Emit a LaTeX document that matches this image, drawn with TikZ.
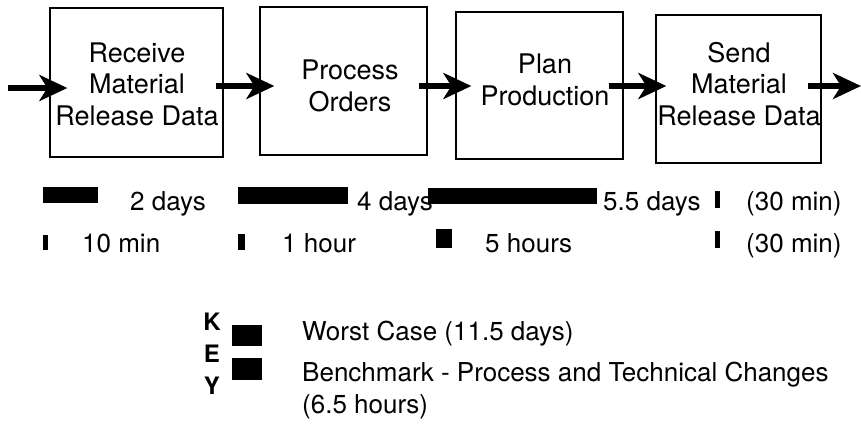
\documentclass[tikz,border=0pt]{standalone}
\usepackage{fontspec}
\setmainfont{TeX Gyre Heros}
\usetikzlibrary{arrows.meta}
\begin{document}
\begin{tikzpicture}[x=1pt,y=-1pt,
  stepbox/.style={draw,line width=1.3pt,minimum width=#1,inner sep=0pt},
  boxtext/.style={align=center,inner sep=0pt,font=\fontsize{27}{31.5}\selectfont},
  flow/.style={line width=6.5pt,-{Stealth[length=28pt,width=26pt,inset=8pt]}},
  lbl/.style={anchor=base west,inner sep=0pt,font=\fontsize{26}{31}\selectfont},
  keyl/.style={anchor=base,inner sep=0pt,font=\fontsize{24}{24}\bfseries\selectfont},
  bar/.style={fill=black}]
\useasboundingbox (0,0) rectangle (861,429);

% process boxes
\node[stepbox=173pt,minimum height=149pt] (b1) at (136.5,82.5) {};
\node[stepbox=167pt,minimum height=148pt] (b2) at (343.5,81) {};
\node[stepbox=167pt,minimum height=147pt] (b3) at (539.5,85.5) {};
\node[stepbox=165pt,minimum height=148pt] (b4) at (738.5,89) {};

\node[boxtext] (t1) at (137,84) {Receive\\Material\\Release Data};
\node[boxtext] (t2) at (350,86) {Process\\Orders};
\node[boxtext] (t3) at (545,80) {Plan\\Production};
\node[boxtext] (t4) at (739,84) {Send\\Material\\Release Data};

% flow arrows
\coordinate (lvl) at (0,86);
\coordinate (src) at (8,88);
\coordinate (snk) at (861,86);
\draw[flow,shorten >=-18pt] (src) -- (b1.west |- src);
\draw[flow,shorten <=-8pt,shorten >=-15pt] (b1.east |- lvl) -- (b2.west |- lvl);
\draw[flow,shorten <=-9pt,shorten >=-16pt] (b2.east |- lvl) -- (b3.west |- lvl);
\draw[flow,shorten <=-15pt,shorten >=-11pt] (b3.east |- lvl) -- (b4.west |- lvl);
\draw[flow,shorten <=-14pt] (b4.east |- lvl) -- (snk);

% worst case times
\fill[bar] (43,187) rectangle (98,203);
\fill[bar] (238,187) rectangle (348,204);
\node[lbl] (w1) at (130,210) {2 days};
\node[lbl] (w2) at (357,210) {4 days};
\fill[bar] (428,188) rectangle (597,204);
\node[lbl] (w3) at (603,210) {5.5 days};
\fill[bar] (715,191) rectangle (720,208);
\node[lbl] (w4) at (746,210) {(30 min)};

% benchmark times
\fill[bar] (43,235) rectangle (48,250);
\node[lbl] (k1) at (82,252) {10 min};
\fill[bar] (238,234) rectangle (245,250);
\node[lbl] (k2) at (282,252) {1 hour};
\fill[bar] (436,229) rectangle (452,248);
\node[lbl] (k3) at (485,252) {5 hours};
\fill[bar] (715,231) rectangle (720,248);
\node[lbl] (k4) at (746,252) {(30 min)};

% key
\node[keyl] (kk) at (212,330) {K};
\node[keyl] (ke) at (212,362) {E};
\node[keyl] (ky) at (212,394) {Y};
\fill[bar] (232,325) rectangle (262,346);
\fill[bar] (232,358) rectangle (262,380);
\node[lbl] (kw) at (302,340) {Worst Case (11.5 days)};
\node[lbl] (kb) at (302,381) {Benchmark - Process and Technical Changes};
\node[lbl] (kh) at (302,413) {(6.5 hours)};
\end{tikzpicture}
\end{document}
